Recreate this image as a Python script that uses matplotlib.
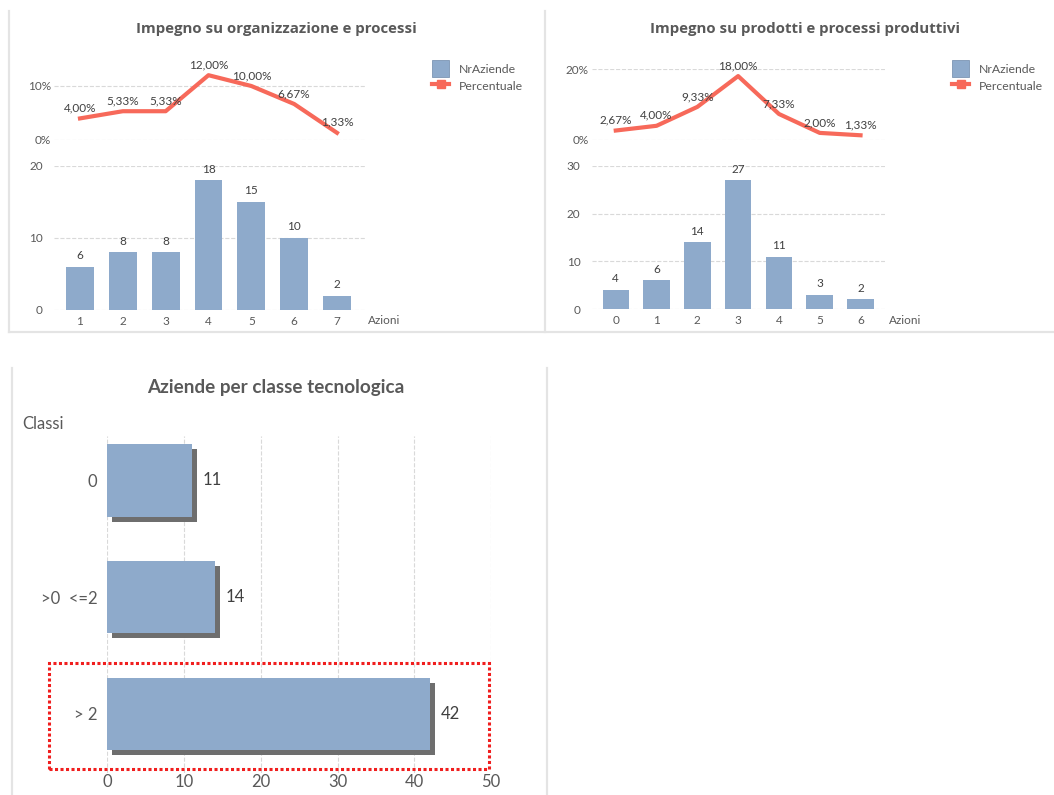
import matplotlib
matplotlib.use('Agg')
import matplotlib.pyplot as plt
import matplotlib.patheffects as pe
from matplotlib.lines import Line2D
from matplotlib.patches import Patch, Rectangle

plt.rcParams['font.family'] = ['Lato', 'DejaVu Sans']

# dati
azioni_org = [1, 2, 3, 4, 5, 6, 7]
aziende_org = [6, 8, 8, 18, 15, 10, 2]
perc_org = [4.00, 5.33, 5.33, 12.00, 10.00, 6.67, 1.33]

azioni_prod = [0, 1, 2, 3, 4, 5, 6]
aziende_prod = [4, 6, 14, 27, 11, 3, 2]
perc_prod = [2.67, 4.00, 9.33, 18.00, 7.33, 2.00, 1.33]

classi = ['0', '>0  <=2', '> 2']
aziende_classi = [11, 14, 42]

BAR = '#8eaacb'
LINE = '#f7695a'
TICK = '#595959'
LAB = '#404040'
GRID = '#d9d9d9'
BORDER = '#e4e4e4'

W, H = 1054, 795
fig = plt.figure(figsize=(W / 100, H / 100), dpi=100)


def rect(l, t, r, b):
    return [l / W, 1 - b / H, (r - l) / W, (b - t) / H]


def fx(x):
    return x / W


def fy(y):
    return 1 - y / H


def pct(v):
    return f'{v:.2f}'.replace('.', ',') + '%'


def style(ax):
    for s in ax.spines.values():
        s.set_visible(False)
    ax.set_facecolor('none')
    ax.tick_params(length=0, colors=TICK, labelsize=8.5)
    ax.grid(axis='y', color=GRID, linestyle='--', linewidth=0.8)
    ax.set_axisbelow(True)


def combo(bar_rect, line_rect, xlim, cats, counts, percs, ymax, pmax, title, title_x, leg_x, azioni_x):
    axb = fig.add_axes(rect(*bar_rect))
    axl = fig.add_axes(rect(*line_rect))
    for ax in (axb, axl):
        style(ax)
        ax.set_xlim(*xlim)

    axb.bar(cats, counts, width=0.65, color=BAR, zorder=2)
    axb.set_ylim(0, ymax)
    axb.set_yticks(range(0, ymax + 1, 10))
    axb.set_xticks(cats)
    axb.tick_params(axis='y', pad=8)
    axb.tick_params(axis='x', pad=4)
    for c, v in zip(cats, counts):
        axb.annotate(str(v), (c, v), xytext=(0, 8), textcoords='offset points',
                     ha='center', va='center', fontsize=8.5, color=LAB)

    vals = [p / 100 for p in percs]
    axl.plot(cats, vals, color=LINE, linewidth=3.0, zorder=3)
    axl.set_ylim(0, pmax)
    axl.set_yticks([0, 0.1] if pmax < 0.2 else [0, 0.2])
    axl.set_yticklabels(['0%', '10%'] if pmax < 0.2 else ['0%', '20%'])
    axl.set_xticks([])
    axl.tick_params(axis='y', pad=2)
    for c, v, p in zip(cats, vals, percs):
        axl.annotate(pct(p), (c, v), xytext=(0, 7.5), textcoords='offset points',
                     ha='center', va='center', fontsize=8.5, color=LAB)

    fig.text(fx(title_x), fy(29), title, ha='center', va='center',
             fontsize=10.8, fontweight='bold', color=TICK,
             family=['Open Sans', 'DejaVu Sans'])
    fig.text(fx(azioni_x), fy(321), 'Azioni', ha='left', va='center',
             fontsize=8.5, color=TICK)

    handles = [Patch(facecolor=BAR, edgecolor='#7d95b3', linewidth=0.6),
               Line2D([], [], color=LINE, linewidth=3.0, marker='s', markersize=6)]
    fig.legend(handles, ['NrAziende', 'Percentuale'], loc='upper left',
               bbox_to_anchor=(fx(leg_x), fy(60)), frameon=False, fontsize=8.8,
               handlelength=1.4, handleheight=1.8, handletextpad=0.8,
               labelspacing=0.05, borderpad=0, borderaxespad=0, labelcolor=TICK)


combo((54, 166, 365, 310), (54, 59, 365, 140), (0.393, 7.654),
      azioni_org, aziende_org, perc_org, 20, 0.15,
      'Impegno su organizzazione e processi', 276, 432, 368)
combo((591.7, 166, 885, 309), (591.7, 69, 885, 140), (-0.59, 6.6),
      azioni_prod, aziende_prod, perc_prod, 30, 0.2,
      'Impegno su prodotti e processi produttivi', 805, 952, 889)

# barre orizzontali per classe tecnologica
ax3 = fig.add_axes(rect(107.3, 436, 491, 773))
for s in ax3.spines.values():
    s.set_visible(False)
ax3.set_facecolor('none')
ypos = list(range(len(classi)))
ax3.barh(ypos, aziende_classi, height=0.62, color=BAR, zorder=2,
         path_effects=[pe.SimplePatchShadow(offset=(3.6, -3.6), shadow_rgbFace='#6e6e6e', alpha=1),
                       pe.Normal()])
ax3.set_xlim(0, 50)
ax3.set_ylim(2.506, -0.381)
ax3.set_xticks(range(0, 51, 10))
ax3.set_yticks(ypos)
ax3.set_yticklabels(classi)
ax3.tick_params(length=0, colors=TICK, labelsize=12)
ax3.tick_params(axis='y', pad=7)
ax3.tick_params(axis='x', pad=1)
ax3.grid(axis='x', color=GRID, linestyle='--', linewidth=0.8)
ax3.set_axisbelow(True)
for y, v in zip(ypos, aziende_classi):
    ax3.annotate(str(v), (v, y), xytext=(8, 0), textcoords='offset points',
                 ha='left', va='center', fontsize=12, color=LAB)

fig.text(fx(276), fy(388), 'Aziende per classe tecnologica', ha='center', va='center',
         fontsize=13.6, fontweight='bold', color=TICK)
fig.text(fx(22), fy(424), 'Classi', ha='left', va='center', fontsize=12, color=TICK)

fig.add_artist(Rectangle((fx(49), fy(769)), fx(489) - fx(49), fy(663) - fy(769),
                         transform=fig.transFigure, fill=False, edgecolor='#f01e1e',
                         linewidth=2.2, linestyle=(0, (1, 0.8))))

# bordi dei riquadri
for (x1, y1, x2, y2) in [(9, 11, 9, 332), (9, 332, 1054, 332), (544.5, 11, 544.5, 332),
                         (11.5, 368, 11.5, 795), (546.5, 368, 546.5, 795)]:
    fig.add_artist(Line2D([fx(x1), fx(x2)], [fy(y1), fy(y2)], color=BORDER, linewidth=1.6))

fig.savefig('out.png', dpi=100)
